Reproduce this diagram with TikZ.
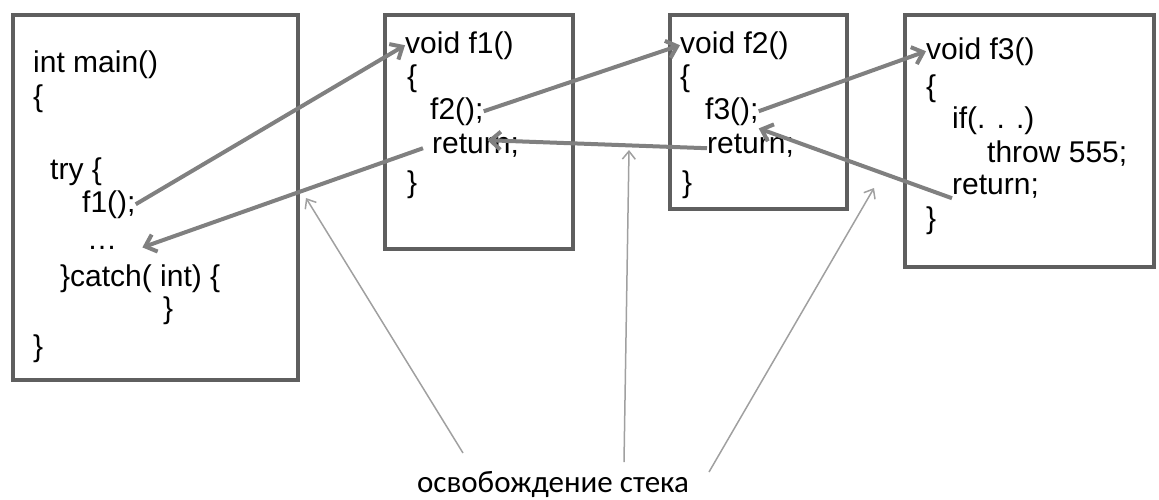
\documentclass[tikz,border=0pt]{standalone}
\usepackage{fontspec}
\setmainfont{Liberation Sans}
\newfontfamily\labelfont{Carlito}
\usetikzlibrary{arrows.meta}
\definecolor{boxgray}{HTML}{5F5F5F}
\definecolor{arrgray}{HTML}{808080}
\definecolor{thingray}{HTML}{A0A0A0}
\begin{document}
\begin{tikzpicture}[x=1pt,y=-1pt,
  code/.style={anchor=base west, inner sep=0pt, font=\fontsize{30}{34}\selectfont},
  frame/.style={draw=boxgray, line width=3.5pt, inner sep=0pt, anchor=north west},
  call/.style={draw=arrgray, line width=4pt, -{Straight Barb[length=10pt,width=18pt]}},
  note/.style={draw=thingray, line width=1.5pt, -{Straight Barb[length=8pt,width=13pt]}},
  lbl/.style={anchor=base, inner sep=0pt, font=\labelfont\fontsize{31}{34}\selectfont}
]
\useasboundingbox (0,0) rectangle (1159,499);
% frames
\node[frame, minimum width=285pt, minimum height=365pt] (mainbox) at (11,13) {};
\node[frame, minimum width=188pt, minimum height=234pt] (f1box) at (383,13) {};
\node[frame, minimum width=177pt, minimum height=194pt] (f2box) at (668,13) {};
\node[frame, minimum width=249pt, minimum height=252pt] (f3box) at (903,13) {};
% main
\node[code] (m1) at (33,72) {int main()};
\node[code] (m2) at (33,106) {\{};
\node[code] (m3) at (50,179) {try \{};
\node[code] (m4) at (82,212) {f1();};
\node[code] (m5) at (87,249) {…};
\node[code] (m6) at (60,286) {\}catch( int) \{};
\node[code] (m7) at (163,318) {\}};
\node[code] (m8) at (33,356) {\}};
% f1
\node[code] (a1) at (405,53) {void f1()};
\node[code] (a2) at (407,86) {\{};
\node[code] (a3) at (430,119) {f2();};
\node[code] (a4) at (432,153) {return;};
\node[code] (a5) at (407,192) {\}};
% f2
\node[code] (b1) at (680,53) {void f2()};
\node[code] (b2) at (680,86) {\{};
\node[code] (b3) at (705,119) {f3();};
\node[code] (b4) at (707,153) {return;};
\node[code] (b5) at (682,192) {\}};
% f3
\node[code] (c1) at (926,59) {void f3()};
\node[code] (c2) at (926,96) {\{};
\node[code] (c3) at (952,128) {if(. . .)};
\node[code] (c4) at (987,162) {throw 555;};
\node[code] (c5) at (952,194) {return;};
\node[code] (c6) at (926,228) {\}};
% label
\node[lbl] (note) at (553,492) {освобождение стека};
\coordinate (n1s) at (463,453);
\coordinate (n2s) at (624,462);
\coordinate (n3s) at (709,472);
\coordinate (n1t) at (306,198);
\coordinate (n2t) at (629,150);
\coordinate (n3t) at (874,188);
% calls and returns
\draw[call] (m4.east) -- (a1.west);
\draw[call] ([xshift=-9pt,yshift=-3pt]a4.west) -- ([xshift=25pt]m5.east);
\draw[call] (a3.east) -- (b1.west);
\draw[call] ([yshift=-3pt]b4.west) -- ([xshift=12pt,yshift=5pt]a4.center);
\draw[call] (b3.east) -- (c1.west);
\draw[call] ([yshift=-12pt]c5.west) -- ([yshift=-3pt]b3.south east);
% stack unwinding notes
\draw[note] (n1s) -- (n1t);
\draw[note] (n2s) -- (n2t);
\draw[note] (n3s) -- (n3t);
\end{tikzpicture}
\end{document}
